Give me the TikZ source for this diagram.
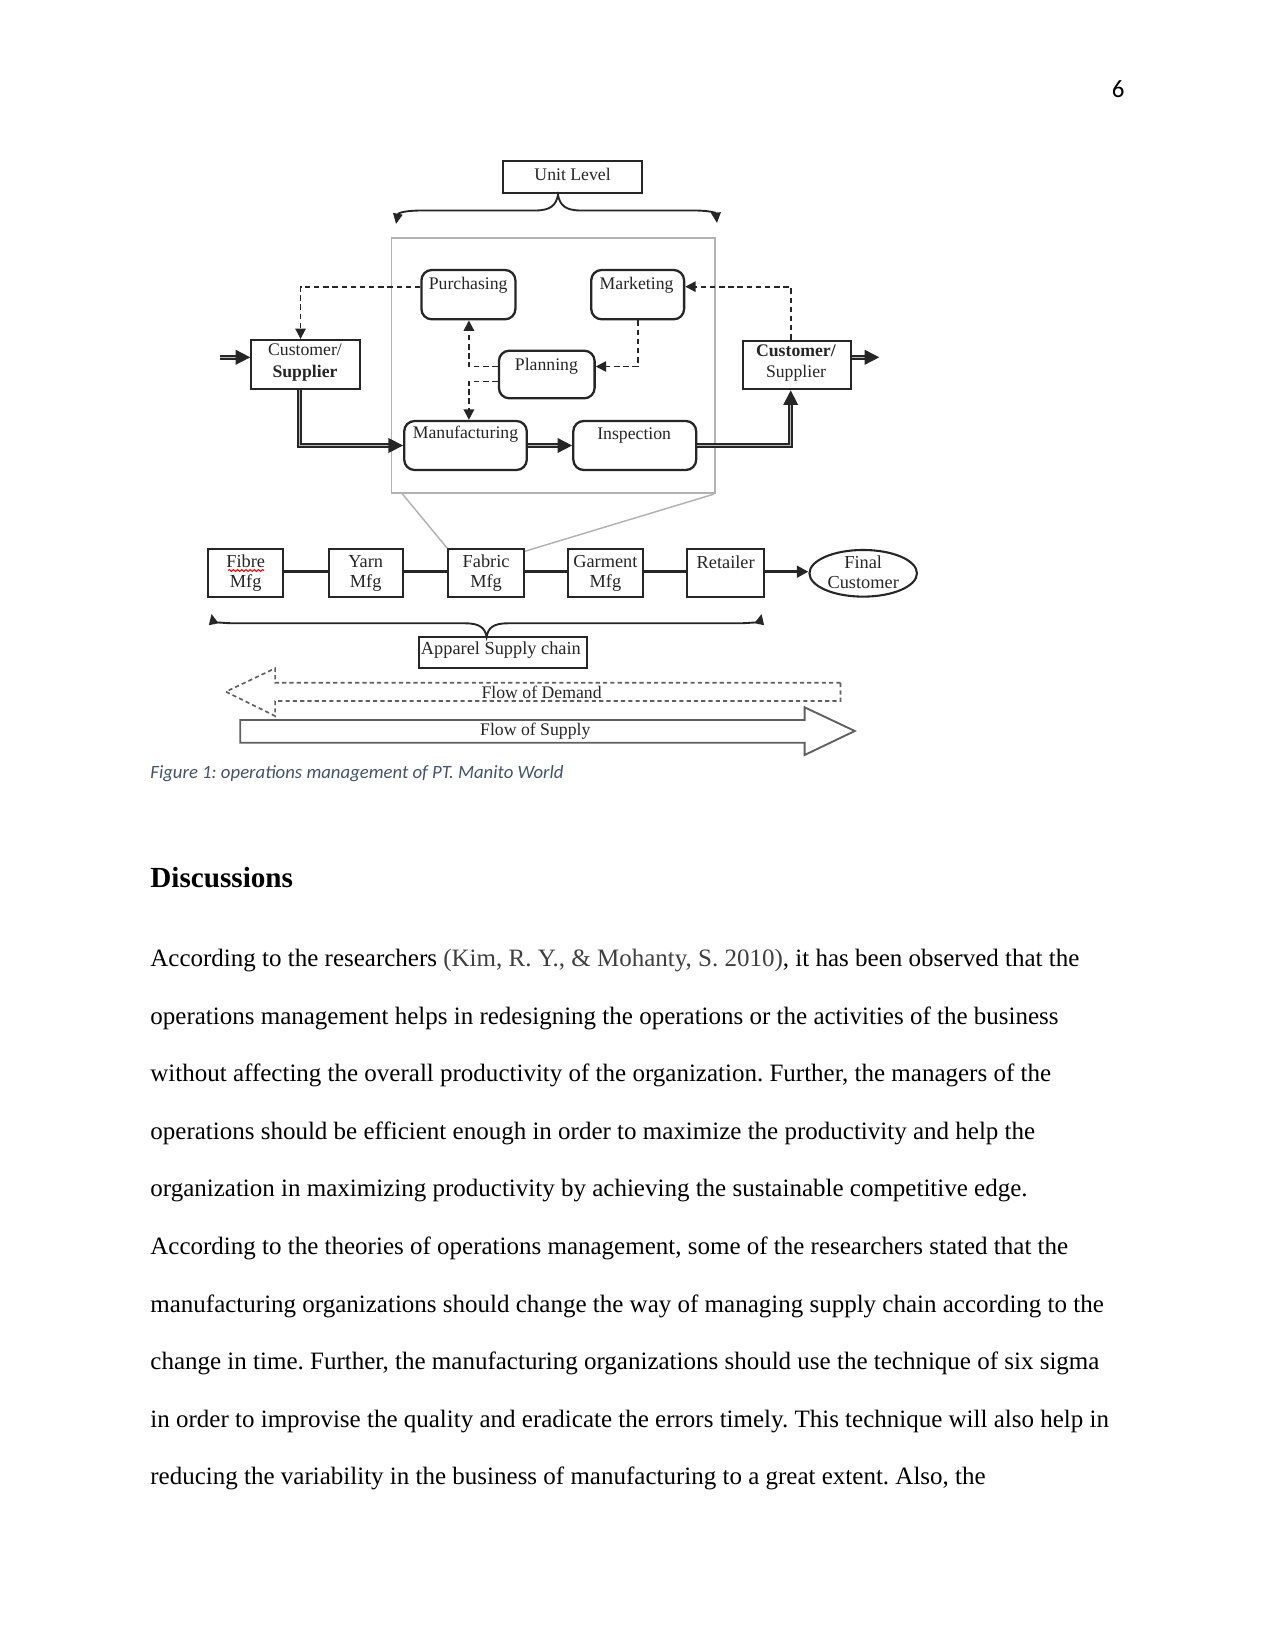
\documentclass[tikz,border=0pt]{standalone}
\usepackage{fontspec}
\setmainfont{Liberation Serif}
\newfontfamily\calibri{Carlito}
\usetikzlibrary{arrows.meta,fit,calc,shapes.geometric,decorations.pathmorphing}
\definecolor{capcol}{HTML}{44546A}
\definecolor{ink}{HTML}{262626}
\definecolor{citecol}{HTML}{404040}
\frenchspacing
\begin{document}
\begin{tikzpicture}[x=0.48pt,y=-0.48pt,
  pbox/.style={draw=ink, line width=1.1pt, rounded corners=5pt, inner sep=0pt},
  sbox/.style={draw=ink, line width=1pt, inner sep=0pt},
  dtext/.style={font=\fontsize{8.5}{10.2}\selectfont, inner sep=0pt, text=ink, align=center},
  ctext/.style={font=\fontsize{8.8}{9.3}\selectfont, inner sep=0pt, text=ink, align=center},
  dbl/.style={draw=ink, double=gray!55, double distance=0.6pt, line width=0.8pt, -{Triangle[length=7pt,width=7pt]}},
  dsh/.style={draw=ink, line width=0.85pt, dash pattern=on 2.6pt off 1.8pt, -{Triangle[length=5pt,width=5pt]}},
  chain/.style={draw=ink, line width=1.5pt},
  brace/.style={draw=ink, line width=0.9pt, {Triangle[length=5pt,width=4.5pt]}-{Triangle[length=5pt,width=4.5pt]}},
  btext/.style={anchor=base west, inner sep=0pt, font=\fontsize{12}{14}\selectfont}
]
\fill[white] (0,0) rectangle (1275,1651);
\useasboundingbox (0,0) rectangle (1275,1651);

% page number
\node[anchor=base east, inner sep=0pt, font=\calibri\fontsize{12}{14}\selectfont] (pg) at (1125,98) {6};

% ---------- Unit level ----------
\node[sbox, fit={(503.4,160.7) (641.8,193.3)}] (unit) {};
\node[dtext] (unitT) at (572.6,174.5) {Unit Level};
\draw[brace] (396,224) .. controls (398,213) and (405,210.5) .. (422,210.5) -- (535,210.5)
  .. controls (551,210.5) and (556,205) .. (558,195) .. controls (560,205) and (565,210.5) .. (581,210.5)
  -- (694,210.5) .. controls (710,210.5) and (716,213) .. (717,223);

\node[draw=gray!60, line width=0.8pt, inner sep=0pt, fit={(391.4,238.3) (715.1,493.3)}] (gbox) {};

\node[pbox, fit={(421.4,270) (515.4,319.3)}] (pur) {};
\node[dtext] (purT) at (468.2,285.7) {Purchasing};
\node[pbox, fit={(591.2,270) (684.1,319.3)}] (mkt) {};
\node[dtext] (mktT) at (636.6,285.7) {Marketing};
\node[pbox, fit={(498.9,350.7) (594.6,398.3)}] (plan) {};
\node[dtext] (planT) at (546.4,366.7) {Planning};
\node[pbox, fit={(404.2,421) (526.8,470)}] (manu) {};
\node[dtext] (manuT) at (465.5,434) {Manufacturing};
\node[pbox, fit={(573.3,421) (696.2,470)}] (insp) {};
\node[dtext] (inspT) at (634.2,436) {Inspection};

\node[sbox, fit={(251.3,340) (359.8,389.3)}] (custL) {};
\node[dtext] (custLT) at (305,362.5) {Customer/\\\textbf{Supplier}};
\node[sbox, fit={(742.7,340.7) (850.7,389.3)}] (custR) {};
\node[dtext] (custRT) at (796,363) {\textbf{Customer/}\\Supplier};

\coordinate (inL) at (220.3,357.3);
\coordinate (outR) at (879.3,357.3);
\draw[dbl] (inL) -- (inL -| custL.west);
\draw[dbl] (outR -| custR.east) -- (outR);
\draw[dbl] ($(custL.south)+(-6,0)$) |- (manu.west);
\draw[dbl] (manu.east) -- (insp.west);
\draw[dbl] (insp.east) -| ($(custR.south)+(-6,0)$);

\draw[dsh] ($(pur.west)+(0,-8)$) -| ($(custL.north)+(-5,0)$);
\draw[dsh] ($(custR.north)+(-6,0)$) |- ($(mkt.east)+(0,-8)$);
\draw[dsh] (mkt.south) |- ($(plan.east)+(0,-8)$);
\draw[dsh] ($(plan.west)+(0,-8)$) -| ($(pur.south)+(0.5,0)$);
\draw[dsh] ($(plan.west)+(0,7)$) -| ($(manu.north)+(3.4,0)$);

% ---------- supply chain ----------
\node[sbox, fit={(208.2,549.3) (283.3,597.3)}] (fibre) {};
\node[ctext] (fibreT) at (245.7,573.3) {Fibre\\Mfg};
\node[sbox, fit={(328.7,549.3) (402.8,597.3)}] (yarn) {};
\node[ctext] (yarnT) at (365.7,573.3) {Yarn\\Mfg};
\node[sbox, fit={(448.3,549.3) (523.9,597.3)}] (fab) {};
\node[ctext] (fabT) at (486.1,573.3) {Fabric\\Mfg};
\node[sbox, fit={(567.9,549.3) (643,597.3)}] (gar) {};
\node[ctext] (garT) at (605.4,573.3) {Garment\\Mfg};
\node[sbox, fit={(687.4,549.3) (764,597.3)}] (ret) {};
\node[ctext] (retT) at (725.7,562) {Retailer};
\node[draw=ink, line width=1pt, ellipse, inner sep=0pt, minimum width=51.6pt, minimum height=22.4pt] (fin) at (863.2,573.3) {};
\node[ctext] (finT) at (863.2,572.3) {Final\\Customer};
\draw[red, line width=0.5pt, decorate, decoration={snake, amplitude=0.45pt, segment length=2pt}] (228,570.5) -- (264,570.5);

\draw[chain] ($(fibre.east)+(0,-1.6)$) -- ($(yarn.west)+(0,-1.6)$);
\draw[chain] ($(yarn.east)+(0,-1.6)$) -- ($(fab.west)+(0,-1.6)$);
\draw[chain] ($(fab.east)+(0,-1.6)$) -- ($(gar.west)+(0,-1.6)$);
\draw[chain] ($(gar.east)+(0,-1.6)$) -- ($(ret.west)+(0,-1.6)$);
\draw[chain, -{Triangle[length=5.5pt,width=5.5pt]}] ($(ret.east)+(0,-1.6)$) -- (fin.west |- {$(ret.east)+(0,-1.6)$});

\draw[gray!60, line width=0.7pt] ($(gbox.south west)+(12,0)$) -- (fab.north west);
\draw[gray!60, line width=0.7pt] ($(gbox.south east)+(-2,0)$) -- ($(fab.north east)+(0,3)$);

\draw[brace] (211.5,614) .. controls (213,621) and (220,623.3) .. (236,623.3) -- (465,623.3)
  .. controls (480,623.3) and (485,628) .. (486.6,637) .. controls (488,628) and (493,623.3) .. (508,623.3)
  -- (737,623.3) .. controls (753,623.3) and (760,621) .. (761.6,614);

\node[sbox, fit={(418.6,637.3) (587,668.3)}] (app) {};
\node[ctext] (appT) at (500.9,650) {Apparel Supply chain};

% flow arrows
\draw[gray!75!black, line width=0.8pt, dash pattern=on 2pt off 1.5pt]
  (840.5,682.7) -- (275.1,682.7) -- (275.1,668.3) -- (225.9,691.7) -- (275.1,716) -- (275.1,701) -- (840.5,701) -- cycle;
\node[dtext] (demT) at (541.6,692.5) {Flow of Demand};
\draw[gray!75!black, line width=0.9pt]
  (240.2,720) -- (804.6,720) -- (804.6,707.3) -- (854.8,731) -- (804.6,755) -- (804.6,742.7) -- (240.2,742.7) -- cycle;
\node[dtext] (supT) at (535.3,731) {Flow of Supply};

% caption
\node[anchor=base west, inner sep=0pt, font=\calibri\itshape\fontsize{9}{11}\selectfont, text=capcol] (cap) at (150,778) {Figure 1: operations management of PT. Manito World};

% heading and body
\node[anchor=base west, inner sep=0pt, font=\bfseries\fontsize{14}{16}\selectfont] (head) at (150,887.5) {Discussions};
\node[btext] (l1) at (150,966.5) {According to the researchers {\color{citecol}(Kim, R. Y., \& Mohanty, S. 2010)}, it has been observed that the};
\node[btext] (l2) at (150,1024.1) {operations management helps in redesigning the operations or the activities of the business};
\node[btext] (l3) at (150,1081.7) {without affecting the overall productivity of the organization. Further, the managers of the};
\node[btext] (l4) at (150,1139.3) {operations should be efficient enough in order to maximize the productivity and help the};
\node[btext] (l5) at (150,1196.9) {organization in maximizing productivity by achieving the sustainable competitive edge.};
\node[btext] (l6) at (150,1254.5) {According to the theories of operations management, some of the researchers stated that the};
\node[btext] (l7) at (150,1312.1) {manufacturing organizations should change the way of managing supply chain according to the};
\node[btext] (l8) at (150,1369.7) {change in time. Further, the manufacturing organizations should use the technique of six sigma};
\node[btext] (l9) at (150,1427.3) {in order to improvise the quality and eradicate the errors timely. This technique will also help in};
\node[btext] (l10) at (150,1484.9) {reducing the variability in the business of manufacturing to a great extent. Also, the};
\end{tikzpicture}
\end{document}
